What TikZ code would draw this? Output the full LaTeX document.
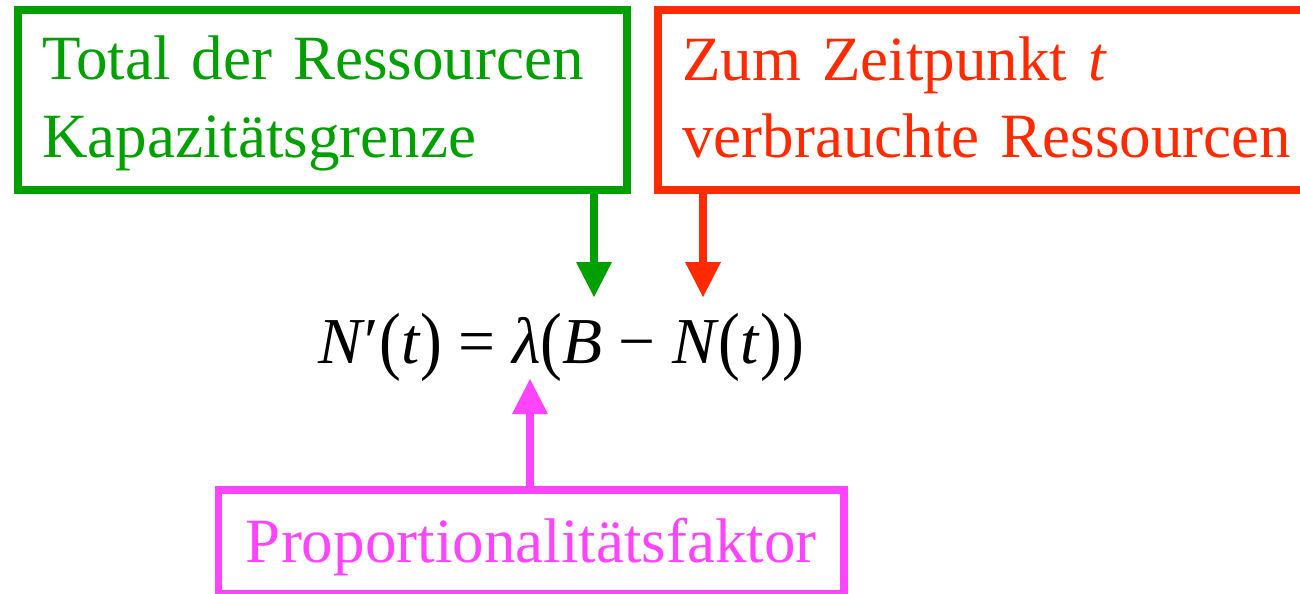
\documentclass[tikz,border=0pt]{standalone}
\usepackage{fontspec}
\setmainfont{Liberation Serif}
\usetikzlibrary{arrows.meta}
\definecolor{cgreen}{RGB}{0,160,0}
\definecolor{cred}{RGB}{255,42,0}
\definecolor{cmag}{RGB}{255,68,255}
\newcommand{\topstrut}{\rule{0pt}{1.02cm}}
\newcommand{\botstrut}{\rule[-0.27cm]{0pt}{0.27cm}}
\newcommand{\bpar}[1]{\raisebox{-0.04em}{\scalebox{1}[1.15]{#1}}}
\begin{document}
\begin{tikzpicture}[x=0.02cm,y=-0.02cm,
  box/.style={draw, line width=0.15cm, rectangle, inner sep=0pt, inner xsep=0.48cm,
    font=\fontsize{35.87pt}{44.1pt}\selectfont},
  conn/.style={line width=0.16cm, -{Triangle[width=0.72cm,length=0.7cm,line width=0pt]}},
  eqn/.style={inner sep=0pt, anchor=base, font=\fontsize{37.3pt}{44.1pt}\selectfont}
]
\useasboundingbox (0,0) rectangle (1300,593);
\clip (0,0) rectangle (1300,593);
\node[box, cgreen, minimum width=12.18cm, minimum height=3.6cm, text width=11.22cm, align=left]
  (gbox) at (322.5,100) {\topstrut Total der Ressourcen\\Kapazitätsgrenze\botstrut};
\node[box, cred, minimum width=13.24cm, minimum height=3.6cm, text width=12.28cm, align=left]
  (rbox) at (989,100) {\topstrut Zum Zeitpunkt \textit{t}\\verbrauchte Ressourcen\botstrut};
\node[box, cmag, minimum width=12.51cm, minimum height=2.08cm]
  (mbox) at (531.25,542) {\rule[-0.28cm]{0pt}{1.36cm}Proportionalitätsfaktor};
\node[eqn] (eq) at (561,363) {\textit{N}′\bpar{(}\textit{t}\bpar{)} = \textit{λ}\bpar{(}\textit{B} − \textit{N}\bpar{(}\textit{t}\bpar{)}\bpar{)}};
\coordinate (gt) at (594,297);
\coordinate (rt) at (703,297);
\coordinate (mt) at (530,379);
\draw[conn, cgreen] (gbox.south -| gt) -- (gt);
\draw[conn, cred] (rbox.south -| rt) -- (rt);
\draw[conn, cmag] (mbox.north -| mt) -- (mt);
\end{tikzpicture}
\end{document}
